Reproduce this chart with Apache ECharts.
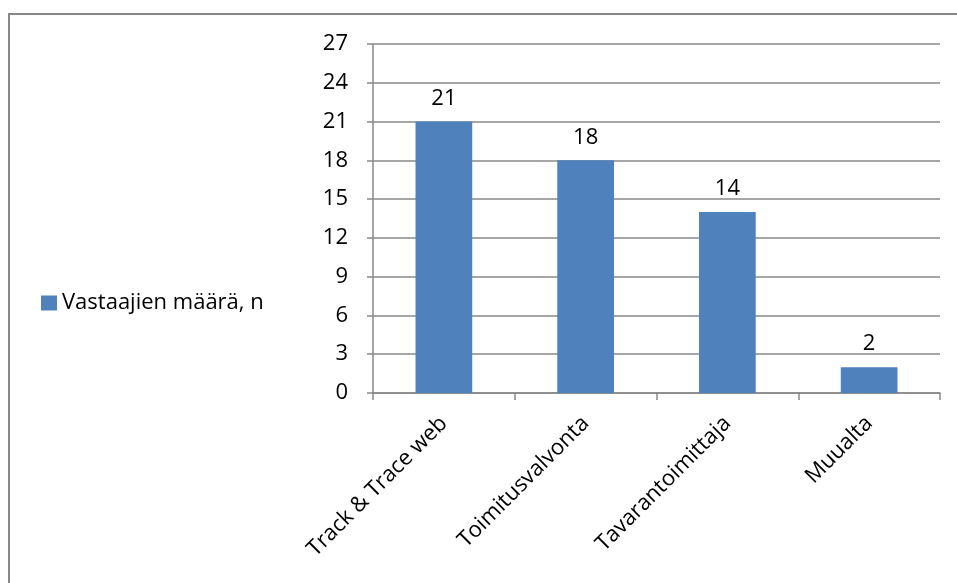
<!DOCTYPE html>
<html><head><meta charset="utf-8">
<script src="https://cdn.jsdelivr.net/npm/echarts@6/dist/echarts.min.js"></script>
<style>
html,body{margin:0;padding:0;background:#fff;}
#frame{position:absolute;left:8px;top:13px;width:960px;height:600px;border:2px solid #888;box-sizing:border-box;}
#c{position:absolute;left:0;top:0;width:957px;height:583px;}
</style></head>
<body>
<div id="frame"></div>
<div id="c"></div>
<script>
const categories = ["Track & Trace web", "Toimitusvalvonta", "Tavarantoimittaja", "Muualta"];
const values = [21, 18, 14, 2];
const seriesName = "Vastaajien määrä, n";
const FONT = "Open Sans";
const FS = 22;
const chart = echarts.init(document.getElementById('c'));
chart.setOption({
  animation: false,
  textStyle: {fontFamily: FONT},
  legend: {
    data: [seriesName], left: 36, top: 287, orient: 'vertical',
    icon: 'rect', itemWidth: 16, itemHeight: 15, itemGap: 5,
    textStyle: {fontFamily: FONT, fontSize: FS, color: '#000'}
  },
  grid: {left: 373, right: 17, top: 44, bottom: 190},
  xAxis: {
    type: 'category', data: categories,
    axisLine: {lineStyle: {color: '#888', width: 1.5}},
    axisTick: {show: true, length: 7, lineStyle: {color: '#888', width: 1.5}},
    axisLabel: {rotate: 45, fontSize: FS, color: '#000', fontFamily: FONT, margin: 27}
  },
  yAxis: {
    type: 'value', min: 0, max: 27, interval: 3,
    axisLine: {show: true, lineStyle: {color: '#888', width: 1.5}},
    axisTick: {show: true, length: 6, lineStyle: {color: '#888', width: 1.5}},
    splitLine: {lineStyle: {color: '#888', width: 1.5}},
    axisLabel: {fontSize: FS, color: '#000', fontFamily: FONT, margin: 25}
  },
  series: [{
    name: seriesName, type: 'bar', data: values, barWidth: '40%',
    itemStyle: {color: '#4F81BD'},
    label: {show: true, position: 'top', distance: 12, fontSize: FS, color: '#000', fontFamily: FONT}
  }]
});
</script>
</body></html>
